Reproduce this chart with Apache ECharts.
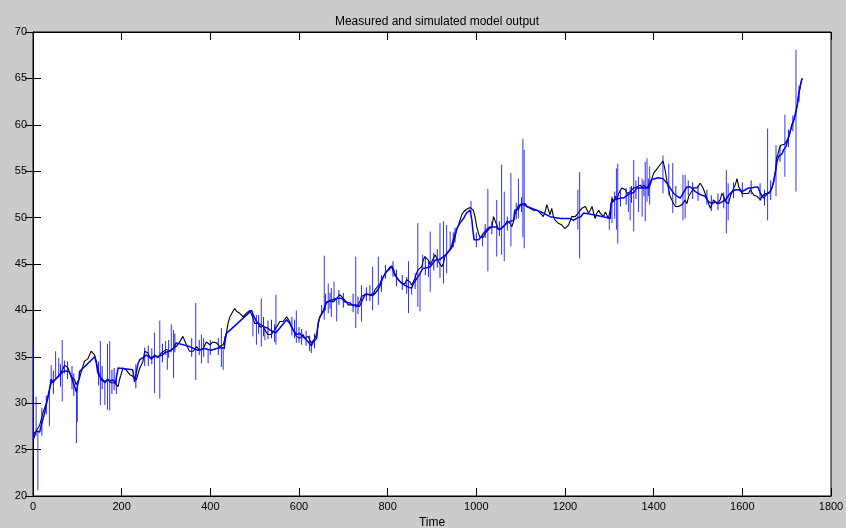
<!DOCTYPE html>
<html>
<head>
<meta charset="utf-8">
<title>Measured and simulated model output</title>
<script src="https://cdn.jsdelivr.net/npm/echarts@6/dist/echarts.min.js"></script>
<style>
  html, body { margin: 0; padding: 0; background: #cbcbcb; }
  #chart { width: 846px; height: 528px; }
</style>
</head>
<body>
<div id="chart"></div>
<script>
// Axis ticks
const xTicks = [0, 200, 400, 600, 800, 1000, 1200, 1400, 1600, 1800];
const yTicks = [20, 25, 30, 35, 40, 45, 50, 55, 60, 65, 70];

// Simulated model output (black), [time, value]
const modelOutput = [
  [0,26.6],[7,27.0],[15,27.6],[22,28.9],[30,30.0],[37,31.4],[41,32.2],[49,32.5],[60,33.1],[67,33.6],[71,34.1],[79,33.8],[86,32.9],[94,32.5],[97,32.0],[105,32.7],[109,33.4],[116,34.5],[124,34.8],[131,35.6],[139,35.2],[143,34.5],[146,33.6],[154,32.5],[161,32.3],[169,32.5],[176,32.2],[184,32.2],[192,31.8],[195,32.5],[203,33.8],[210,33.6],[218,33.1],[225,32.9],[233,32.5],[241,33.8],[248,34.5],[252,35.6],[259,35.4],[267,34.7],[274,35.2],[282,34.9],[289,35.4],[301,35.8],[308,35.6],[316,35.9],[323,36.1],[331,36.6],[338,37.2],[346,36.3],[353,35.6],[361,35.6],[369,36.1],[376,35.7],[384,35.9],[391,36.6],[399,36.3],[406,36.6],[414,36.5],[421,36.1],[429,36.3],[432,36.8],[436,37.5],[440,38.6],[444,39.3],[448,39.3],[451,39.9],[455,40.2],[459,39.9],[463,40.0],[466,39.7],[470,39.9],[474,39.3],[478,39.2],[481,39.7],[485,39.9],[489,40.0],[496,39.2],[500,38.6],[504,38.4],[508,38.6],[512,38.2],[515,38.1],[519,38.3],[523,37.9],[527,37.7],[530,37.4],[534,37.2],[538,37.4],[542,37.7],[545,37.9],[549,38.2],[553,38.4],[557,38.8],[560,39.0],[564,38.8],[568,39.0],[572,39.3],[576,39.1],[579,38.8],[583,38.2],[587,37.9],[591,37.5],[594,37.2],[598,37.4],[602,37.0],[606,37.2],[609,37.4],[613,37.0],[617,36.8],[621,37.2],[624,36.8],[628,36.5],[632,36.6],[636,37.0],[640,37.5],[643,38.4],[647,39.3],[651,39.7],[655,40.0],[658,40.4],[662,40.8],[666,40.9],[670,41.1],[673,41.3],[677,40.9],[681,41.1],[685,41.3],[688,41.5],[692,41.7],[696,41.5],[700,41.3],[704,41.1],[707,40.9],[711,40.6],[715,40.8],[722,40.6],[730,40.4],[737,40.9],[741,41.5],[745,41.7],[752,41.8],[756,42.0],[760,41.7],[768,41.8],[771,42.2],[775,42.4],[783,42.9],[786,43.3],[790,43.6],[794,44.0],[798,44.2],[801,44.4],[805,44.7],[809,44.9],[813,44.5],[816,44.0],[820,43.6],[824,43.3],[828,43.1],[832,42.9],[835,42.7],[839,42.9],[843,43.3],[847,43.5],[850,43.1],[854,42.7],[858,42.9],[862,43.5],[865,44.0],[869,44.4],[873,44.5],[877,44.7],[880,45.4],[884,45.8],[888,45.6],[892,45.4],[896,44.9],[899,45.1],[903,45.6],[907,46.0],[911,45.6],[914,45.3],[918,45.1],[922,44.7],[926,45.1],[929,45.8],[933,46.0],[937,46.3],[941,46.5],[944,46.7],[948,47.2],[952,47.9],[956,48.7],[960,49.2],[963,49.7],[967,50.3],[971,50.6],[975,50.8],[978,50.9],[982,51.0],[986,51.1],[990,51.2],[993,50.8],[997,50.1],[1001,49.0],[1005,48.3],[1008,47.9],[1012,47.8],[1016,47.9],[1020,48.3],[1023,48.5],[1027,48.7],[1031,48.8],[1035,49.0],[1039,50.1],[1042,49.7],[1046,49.2],[1050,48.7],[1054,48.5],[1057,48.8],[1061,48.7],[1065,49.2],[1069,49.6],[1072,49.8],[1076,49.4],[1080,49.0],[1084,49.6],[1087,50.3],[1091,50.8],[1095,51.3],[1099,51.4],[1106,51.4],[1114,51.2],[1121,51.0],[1129,50.8],[1136,50.8],[1144,50.5],[1151,50.1],[1155,50.6],[1159,51.4],[1163,50.8],[1166,50.3],[1170,51.0],[1174,50.1],[1178,49.7],[1182,49.6],[1185,49.4],[1189,49.2],[1193,49.2],[1197,49.0],[1200,48.8],[1204,49.0],[1208,49.2],[1212,49.7],[1215,50.1],[1219,50.3],[1223,50.1],[1227,50.3],[1230,50.5],[1234,50.6],[1238,51.0],[1242,50.8],[1246,51.2],[1250,50.8],[1253,50.5],[1257,50.8],[1261,51.2],[1264,50.6],[1268,49.9],[1272,50.5],[1276,50.8],[1279,50.5],[1283,50.6],[1287,50.1],[1291,50.6],[1294,50.3],[1298,49.9],[1302,50.8],[1306,52.1],[1310,51.7],[1313,52.3],[1317,51.9],[1321,52.6],[1325,52.8],[1328,53.2],[1332,53.3],[1336,53.0],[1340,52.6],[1343,52.4],[1347,52.8],[1351,52.8],[1355,53.2],[1358,53.2],[1362,53.3],[1366,53.2],[1370,53.5],[1374,53.2],[1377,53.5],[1381,53.5],[1385,53.2],[1389,53.5],[1392,53.7],[1396,54.2],[1400,54.8],[1421,56.1],[1424,55.9],[1426,55.1],[1430,53.9],[1434,53.0],[1437,52.3],[1441,51.9],[1445,51.5],[1449,51.2],[1453,51.0],[1456,51.2],[1460,51.0],[1464,51.4],[1468,51.5],[1471,51.9],[1475,51.5],[1479,52.3],[1483,52.6],[1486,52.8],[1490,53.2],[1494,53.4],[1498,53.2],[1501,53.4],[1505,53.7],[1509,53.4],[1513,53.0],[1516,52.6],[1520,52.1],[1524,51.5],[1528,51.0],[1532,51.2],[1535,51.9],[1539,52.1],[1543,51.5],[1547,51.4],[1550,51.9],[1554,52.6],[1558,52.3],[1562,51.7],[1565,51.9],[1569,51.5],[1573,52.3],[1577,52.8],[1580,53.0],[1584,53.5],[1588,54.2],[1592,53.3],[1596,53.0],[1599,52.6],[1603,52.8],[1607,52.6],[1611,52.8],[1614,52.6],[1618,53.0],[1622,52.8],[1626,52.4],[1629,52.6],[1633,52.3],[1637,52.1],[1641,51.9],[1644,52.3],[1648,52.4],[1652,52.6],[1656,52.8],[1660,52.6],[1663,52.8],[1667,53.3],[1671,54.0],[1675,55.1],[1677,56.4],[1680,56.8],[1684,57.5],[1687,57.8],[1691,58.0],[1695,57.9],[1699,57.8],[1702,58.4],[1705,58.7],[1708,59.3],[1712,60.0],[1716,60.5],[1720,61.1],[1722,61.6],[1725,62.5],[1727,63.4],[1730,63.9],[1733,64.7],[1735,65.0]
];

// Measured output (blue), [time, value]
const measuredOutput = [
  [0,26.0],[3,26.4],[7,27.0],[15,26.9],[18,27.5],[26,28.9],[34,30.7],[37,31.4],[41,32.6],[45,32.2],[51,32.6],[58,32.9],[66,33.3],[71,33.5],[75,33.6],[82,33.4],[86,32.9],[90,32.3],[94,31.8],[98,31.2],[100,31.8],[104,32.7],[105,33.4],[139,35.0],[143,34.3],[146,33.3],[152,32.8],[158,32.5],[162,32.2],[168,32.6],[173,32.4],[177,32.3],[180,32.5],[186,32.2],[192,33.8],[225,33.6],[229,32.3],[237,34.3],[241,34.7],[248,34.9],[256,35.2],[263,34.9],[274,35.0],[278,34.9],[286,35.1],[292,35.2],[299,35.5],[303,35.4],[308,35.6],[312,35.7],[317,35.9],[323,36.5],[353,36.1],[372,35.7],[387,35.9],[402,35.7],[414,35.9],[425,36.0],[431,35.9],[436,37.5],[493,40.0],[496,39.6],[500,39.2],[504,38.8],[508,38.6],[515,38.4],[519,38.4],[523,38.2],[529,38.1],[534,37.9],[542,37.7],[548,37.6],[551,37.5],[572,39.0],[579,38.6],[587,37.9],[594,37.4],[602,37.5],[608,37.2],[613,37.0],[621,36.6],[628,36.2],[632,36.6],[640,37.0],[643,38.6],[647,39.3],[655,39.9],[662,40.9],[670,41.0],[679,41.2],[685,41.3],[696,41.3],[704,40.9],[715,40.8],[722,40.5],[728,40.6],[736,40.4],[741,40.9],[749,41.7],[756,41.7],[766,41.6],[771,41.8],[779,42.3],[783,42.7],[790,43.6],[798,44.2],[805,44.5],[809,44.8],[816,43.8],[828,43.1],[839,42.7],[847,42.5],[850,42.6],[854,42.4],[858,42.9],[868,43.6],[873,44.0],[879,44.5],[882,44.7],[888,44.6],[896,44.7],[899,44.9],[907,45.4],[918,45.5],[922,45.6],[926,45.8],[929,46.0],[933,46.1],[937,46.3],[941,46.6],[944,46.9],[948,47.6],[956,48.8],[963,49.4],[971,49.9],[978,50.5],[986,50.8],[988,51.0],[990,49.7],[992,48.7],[995,47.6],[997,47.4],[1005,47.6],[1008,47.4],[1012,48.0],[1016,48.3],[1023,48.7],[1031,49.0],[1039,49.0],[1046,49.0],[1050,48.7],[1057,48.9],[1061,48.8],[1069,49.4],[1076,49.6],[1084,49.7],[1087,50.8],[1095,50.9],[1099,51.4],[1110,51.5],[1114,51.2],[1136,50.8],[1151,50.5],[1166,50.1],[1189,49.9],[1212,49.9],[1219,49.7],[1229,50.0],[1236,50.1],[1242,50.5],[1264,50.3],[1294,50.0],[1302,49.9],[1304,51.5],[1310,51.9],[1325,52.1],[1332,52.1],[1340,52.4],[1347,52.6],[1355,52.7],[1358,52.8],[1362,53.2],[1370,53.2],[1377,53.2],[1389,53.2],[1396,54.1],[1410,54.3],[1421,54.2],[1423,54.1],[1430,53.7],[1437,53.2],[1445,52.6],[1453,52.3],[1460,52.1],[1475,53.3],[1483,53.3],[1494,52.8],[1501,52.6],[1509,52.4],[1516,52.3],[1524,51.7],[1532,51.5],[1539,51.7],[1547,51.5],[1554,51.7],[1562,51.9],[1569,52.4],[1577,52.8],[1584,53.0],[1592,53.0],[1599,52.8],[1607,53.0],[1614,53.2],[1622,53.2],[1629,53.3],[1635,53.3],[1641,52.6],[1648,52.1],[1652,52.1],[1656,52.6],[1663,52.8],[1667,53.2],[1671,53.9],[1675,55.0],[1678,56.0],[1682,56.6],[1686,56.8],[1690,56.9],[1693,57.3],[1699,57.7],[1702,58.4],[1707,59.1],[1712,60.0],[1716,60.5],[1724,62.1],[1727,63.2],[1731,64.3],[1735,65.0]
];

// Large outliers in the measured output: [time, high, low]
const measuredSpikes = [
  [1,36.3,26.0],[7,30.7,26.5],[11,27.0,20.6],[37,31.4,27.5],[41,34.1,32.0],[51,35.6,32.5],[58,34.9,32.8],[66,36.8,30.2],[71,34.6,33.2],[98,31.2,25.7],[100,31.8,28.0],
  [152,36.7,29.8],[162,32.5,29.8],[168,36.4,29.3],[173,36.7,29.2],[274,37.6,31.1],[286,38.9,30.5],[299,36.7,35.2],[303,35.6,33.6],[312,38.5,35.5],[317,37.9,32.7],
  [367,40.8,32.5],[380,37.4,34.3],[395,35.8,34.3],[425,38.1,33.9],[429,35.8,33.6],[432,37.2,35.8],[496,39.6,37.2],[504,39.5,36.3],[515,41.3,36.1],[523,38.2,36.8],[548,41.7,36.3],
  [594,40.0,36.5],[628,36.6,35.4],[651,40.6,39.5],[657,45.9,39.0],[666,42.9,39.7],[673,42.4,39.3],[679,43.1,41.0],[685,41.3,38.8],
  [728,45.8,38.1],[741,42.7,38.8],[766,44.7,40.0],[779,45.8,40.6],[847,45.3,39.7],[854,42.5,41.7],[868,49.4,40.4],[873,44.0,39.9],[879,46.0,44.4],[896,48.5,42.0],
  [918,49.4,43.5],[926,49.6,42.9],[933,49.2,44.0],[941,48.5,46.5],[988,51.8,50.5],[1014,48.0,46.9],[1026,53.1,44.2],[1046,51.9,45.8],[1057,55.7,46.0],[1063,52.8,45.3],
  [1078,54.8,46.9],[1095,54.2,49.9],[1105,58.5,47.9],[1108,57.3,46.7],[1229,53.0,48.7],[1233,54.9,45.6],[1300,50.0,48.7],[1306,52.3,49.4],[1312,52.8,49.9],[1316,55.3,48.7],[1319,55.8,47.2],
  [1343,52.6,50.6],[1347,53.3,49.7],[1355,56.2,48.5],[1366,54.4,50.6],[1374,54.2,50.1],[1381,56.0,49.6],[1385,56.4,51.7],[1391,55.5,51.4],[1421,56.7,52.6],[1434,55.8,52.4],
  [1443,55.9,50.5],[1466,54.6,49.7],[1471,54.6,49.9],[1564,55.1,48.3],[1568,53.7,49.7],[1657,59.6,49.7],[1676,57.8,52.3],[1696,61.1,54.4],[1721,68.1,52.8]
];

// Small fluctuations of the measured output: [time, high, low]
const measuredJitter = [
  [20,29.5,26.5],[30,30.8,28.8],[46,33.5,31.0],[62,34.2,31.8],[78,34.5,32.6],[88,34.0,31.5],[92,33.2,30.8],[148,34.5,31.9],[156,34.0,31.5],[178,33.6,31.0],[183,33.8,31.4],[188,33.2,31.0],
  [232,34.2,31.6],[252,36.0,34.0],[260,36.2,34.0],[268,35.9,34.2],[292,36.4,34.4],[306,36.8,34.9],[320,37.5,35.5],
  [358,37.0,35.0],[375,36.8,35.2],[385,37.0,35.0],[400,36.8,35.2],[418,37.0,35.2],[509,39.5,37.5],[520,39.3,37.2],[530,38.9,36.9],[538,39.0,37.0],[545,38.5,36.6],
  [584,39.3,37.3],[590,39.0,37.0],[600,38.2,36.5],[606,38.0,36.3],[616,37.8,36.2],[624,37.3,35.6],[635,37.5,35.9],[660,41.8,40.0],[670,41.9,40.2],[690,42.2,40.6],[700,41.9,40.3],
  [722,41.8,39.8],[733,41.5,39.6],[752,42.5,41.0],[760,42.7,41.0],[786,43.8,42.0],[795,44.9,43.4],[812,45.3,43.6],[820,44.4,42.6],[833,43.8,42.2],[843,43.6,41.8],
  [862,44.0,42.3],[885,45.8,43.8],[892,45.4,43.6],[904,46.2,44.3],[912,46.6,44.6],[948,48.4,46.8],[952,48.9,47.3],[1000,48.4,46.8],[1020,49.3,47.8],[1035,49.6,48.2],[1052,49.6,48.0],[1070,50.1,48.6],
  [1090,51.6,49.8],[1102,52.2,50.6],[1325,53.0,51.2],[1338,53.2,51.4],[1350,53.4,51.6],[1360,54.0,52.0],[1378,54.0,52.3],[1388,54.2,52.3],
  [1450,53.4,51.4],[1478,54.0,52.4],[1488,53.8,52.0],[1500,53.5,51.8],[1520,53.0,51.4],[1530,52.4,50.7],[1545,52.6,50.8],[1558,52.7,51.0],[1580,53.8,52.1],[1600,53.8,52.2],
  [1620,54.0,52.5],[1640,53.7,51.8],[1650,53.0,51.3],[1664,54.0,51.9],[1685,57.8,56.0],[1704,59.5,57.6],[1714,61.0,59.3],[1728,64.2,62.5]
];

const chart = echarts.init(document.getElementById('chart'), null, { renderer: 'canvas' });

const font = 'Liberation Sans, Arial, sans-serif';
const tickStyle = { show: true, inside: true, length: 8, lineStyle: { color: '#000', width: 1 } };
const xMin = xTicks[0], xMax = xTicks[xTicks.length - 1], xStep = xTicks[1] - xTicks[0];
const yMin = yTicks[0], yMax = yTicks[yTicks.length - 1], yStep = yTicks[1] - yTicks[0];
const plainNumber = function (v) { return String(v); };

// Vertical segment from [t, high] to [t, low]
function verticalSegments(opacity) {
  return function (params, api) {
    const top = api.coord([api.value(0), api.value(1)]);
    const bottom = api.coord([api.value(0), api.value(2)]);
    return {
      type: 'line',
      shape: { x1: top[0], y1: top[1], x2: bottom[0], y2: bottom[1] },
      style: { stroke: '#0000ff', lineWidth: 1, opacity: opacity }
    };
  };
}

chart.setOption({
  animation: false,
  backgroundColor: '#cbcbcb',
  title: {
    text: 'Measured and simulated model output',
    left: 432, top: 11, textAlign: 'center',
    textStyle: { fontFamily: font, fontSize: 12, fontWeight: 'normal', color: '#000' }
  },
  grid: {
    left: 33, right: 15, top: 32, bottom: 32,
    containLabel: false, outerBoundsMode: 'none',
    show: true, backgroundColor: '#ffffff', borderColor: '#000', borderWidth: 1
  },
  xAxis: [
    {
      type: 'value', min: xMin, max: xMax, interval: xStep, position: 'bottom',
      name: 'Time', nameLocation: 'middle', nameGap: 20,
      nameTextStyle: { fontFamily: font, fontSize: 12, color: '#000' },
      axisLine: { show: true, lineStyle: { color: '#000' } },
      axisTick: tickStyle, splitLine: { show: false },
      axisLabel: { fontFamily: font, fontSize: 11, color: '#000', margin: 5, formatter: plainNumber }
    },
    {
      type: 'value', min: xMin, max: xMax, interval: xStep, position: 'top',
      axisLine: { show: true, lineStyle: { color: '#000' } },
      axisTick: tickStyle, splitLine: { show: false }, axisLabel: { show: false }
    }
  ],
  yAxis: [
    {
      type: 'value', min: yMin, max: yMax, interval: yStep, position: 'left',
      axisLine: { show: true, lineStyle: { color: '#000' } },
      axisTick: tickStyle, splitLine: { show: false },
      axisLabel: { fontFamily: font, fontSize: 11, color: '#000', margin: 6, formatter: plainNumber }
    },
    {
      type: 'value', min: yMin, max: yMax, interval: yStep, position: 'right',
      axisLine: { show: true, lineStyle: { color: '#000' } },
      axisTick: tickStyle, splitLine: { show: false }, axisLabel: { show: false }
    }
  ],
  series: [
    {
      name: 'Simulated', type: 'line', data: modelOutput,
      xAxisIndex: 0, yAxisIndex: 0,
      showSymbol: false, symbol: 'none',
      lineStyle: { color: '#000', width: 1.1 }, z: 2
    },
    {
      name: 'Measured', type: 'line', data: measuredOutput,
      xAxisIndex: 0, yAxisIndex: 0,
      showSymbol: false, symbol: 'none',
      lineStyle: { color: '#0000ff', width: 1.5 }, z: 3
    },
    {
      name: 'Fluctuations', type: 'custom', data: measuredJitter,
      xAxisIndex: 0, yAxisIndex: 0,
      encode: { x: 0, y: [1, 2] }, z: 4,
      renderItem: verticalSegments(0.9)
    },
    {
      name: 'Outliers', type: 'custom', data: measuredSpikes,
      xAxisIndex: 0, yAxisIndex: 0,
      encode: { x: 0, y: [1, 2] }, z: 4,
      renderItem: verticalSegments(0.8)
    }
  ]
});
</script>
</body>
</html>
